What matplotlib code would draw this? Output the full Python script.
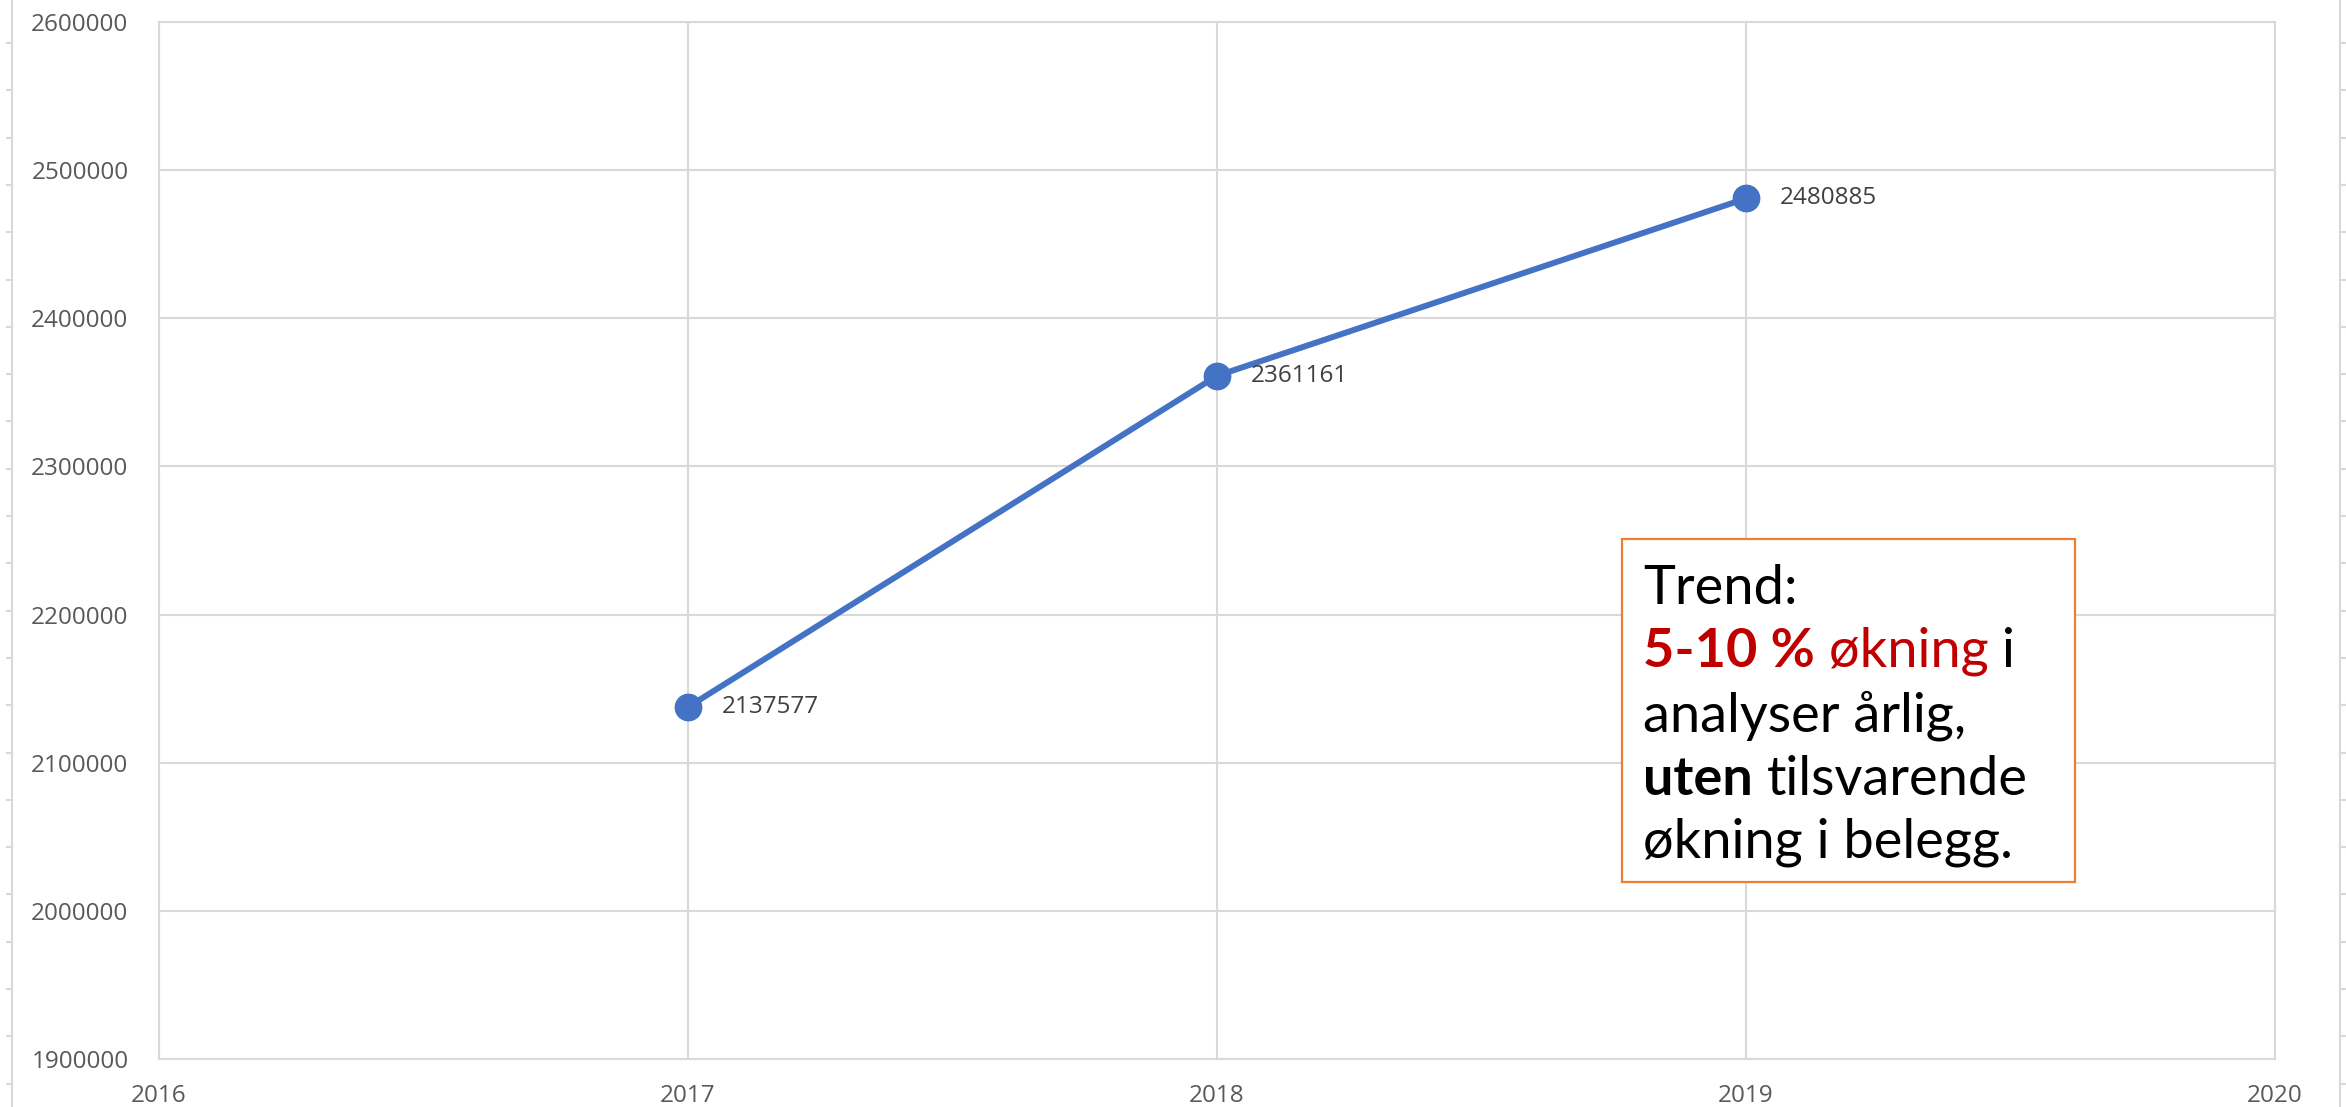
import numpy as np
import matplotlib
matplotlib.use('Agg')
import matplotlib.pyplot as plt
from matplotlib.lines import Line2D
from matplotlib.patches import Rectangle
from matplotlib.offsetbox import TextArea, HPacker, VPacker, AnnotationBbox

# data
years = [2017, 2018, 2019]
analyses = [2137577, 2361161, 2480885]
x_ticks = [2016, 2017, 2018, 2019, 2020]
y_ticks = [1900000, 2000000, 2100000, 2200000, 2300000, 2400000, 2500000, 2600000]

W, H = 2346, 1107
GRID = '#d9d9d9'
BLUE = '#4472C4'
ORANGE = '#ED7D31'
RED = '#C00000'

plt.rcParams['font.family'] = ['Open Sans', 'DejaVu Sans']

fig = plt.figure(figsize=(W / 100, H / 100), dpi=100)
fig.patch.set_facecolor('white')

def fx(px):
    return px / W

def fy(py):
    return 1 - py / H

ax = fig.add_axes([fx(159), fy(1059), fx(2275) - fx(159), fy(22) - fy(1059)])
ax.set_xlim(x_ticks[0], x_ticks[-1])
ax.set_ylim(y_ticks[0], y_ticks[-1])
ax.set_xticks(x_ticks)
ax.set_yticks(y_ticks)
ax.set_xticklabels([str(t) for t in x_ticks])
ax.set_yticklabels([str(t) for t in y_ticks])
ax.grid(True, color=GRID, linewidth=1.5)
ax.set_axisbelow(True)
for s in ax.spines.values():
    s.set_color(GRID)
    s.set_linewidth(1.5)
ax.tick_params(axis='both', length=0, labelsize=17.5, colors='#595959')
ax.tick_params(axis='x', pad=18)
ax.tick_params(axis='y', pad=22)

# series
ax.plot(years, analyses, color=BLUE, linewidth=4.3, marker='o', markersize=19,
        solid_capstyle='round', zorder=3)
for x, y in zip(years, analyses):
    ax.annotate(str(y), (x, y), xytext=(24, 0), textcoords='offset points',
                va='center', ha='left', fontsize=17.5, color='#404040')

# text box
fig.add_artist(Rectangle((fx(1622), fy(882)), fx(2075) - fx(1622), fy(539) - fy(882),
                         transform=fig.transFigure, facecolor='white',
                         edgecolor=ORANGE, linewidth=1.6, zorder=4))

fs = 39
box_font = ['Lato', 'DejaVu Sans']

def piece(txt, color='black', weight='normal'):
    return TextArea(txt, textprops=dict(fontsize=fs, color=color, fontweight=weight,
                                        family=box_font))

space = 10
lines = [
    HPacker(children=[piece('Trend:')], align='baseline', pad=0, sep=0),
    HPacker(children=[piece('5-10 %', RED, 'bold'), piece('økning', RED), piece('i')],
            align='baseline', pad=0, sep=space),
    HPacker(children=[piece('analyser årlig,')], align='baseline', pad=0, sep=0),
    HPacker(children=[piece('uten', weight='bold'), piece('tilsvarende')],
            align='baseline', pad=0, sep=space),
    HPacker(children=[piece('økning i belegg.')], align='baseline', pad=0, sep=0),
]
block = VPacker(children=lines, align='left', pad=0, sep=10)
ab = AnnotationBbox(block, (fx(1643), fy(564)), xycoords='figure fraction',
                    box_alignment=(0, 1), frameon=False, pad=0, zorder=5)
fig.add_artist(ab)

# sheet edge rulers
tick_y = np.arange(43, H, 47.3)
fig.add_artist(Line2D([fx(12), fx(12)], [0, 1], color=GRID, linewidth=1.5))
fig.add_artist(Line2D([fx(2340), fx(2340)], [0, 1], color=GRID, linewidth=1.5))
for ty in tick_y:
    fig.add_artist(Line2D([fx(7), fx(12)], [fy(ty), fy(ty)], color=GRID, linewidth=1.5))
    fig.add_artist(Line2D([fx(2340), fx(2346)], [fy(ty), fy(ty)], color=GRID, linewidth=1.5))

fig.savefig('out.png', dpi=100, facecolor='white')
